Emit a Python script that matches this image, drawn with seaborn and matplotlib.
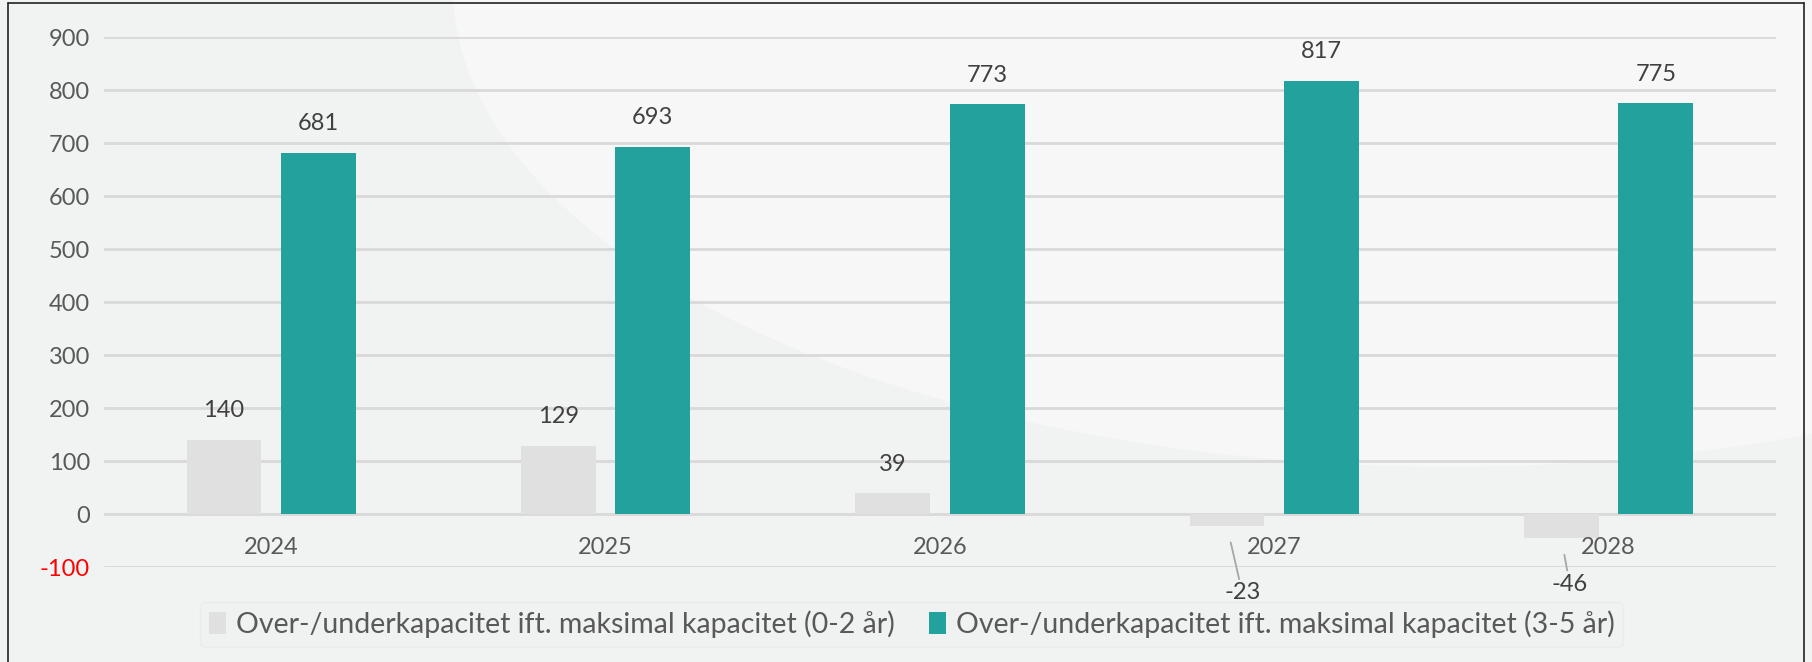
import matplotlib
matplotlib.use("Agg")
import matplotlib.pyplot as plt
from matplotlib.patches import Ellipse
from matplotlib.lines import Line2D
import pandas as pd
import seaborn as sns

years = ["2024", "2025", "2026", "2027", "2028"]
short_term = [140, 129, 39, -23, -46]
long_term = [681, 693, 773, 817, 775]
series_names = ["Over-/underkapacitet ift. maksimal kapacitet (0-2 år)",
                "Over-/underkapacitet ift. maksimal kapacitet (3-5 år)"]
yticks = [-100, 0, 100, 200, 300, 400, 500, 600, 700, 800, 900]

df = pd.DataFrame({
    "year": years * 2,
    "value": short_term + long_term,
    "serie": [series_names[0]] * 5 + [series_names[1]] * 5,
})

sns.set_style("white")
plt.rcParams["font.family"] = ["Lato", "DejaVu Sans"]
plt.rcParams["axes.unicode_minus"] = False

fig = plt.figure(figsize=(18.12, 6.62), dpi=100, facecolor="#f1f2f2")
# soft white swoosh in the background
bg = Ellipse((0.80, 1.02), 1.1, 1.45, transform=fig.transFigure,
             facecolor="white", alpha=0.45, edgecolor="none", zorder=-5)
fig.patches.append(bg)
ax = fig.add_axes([0.0574, 0.1435, 0.9226, 0.8005])
ax.set_zorder(2)
ax.set_facecolor("none")

sns.barplot(data=df, x="year", y="value", hue="serie", ax=ax,
            palette=["#e0e0e0", "#23a19c"], width=0.565, gap=0.207,
            saturation=1, edgecolor="none", legend=True)

ax.set_ylim(-100, 900)
ax.set_xlim(-0.5, 4.5)
ax.set_yticks(yticks)
ax.yaxis.grid(True, color="#d9d9d9", linewidth=2)
ax.set_axisbelow(True)
for s in ax.spines.values():
    s.set_visible(False)
ax.set_xlabel("")
ax.set_ylabel("")
ax.tick_params(axis="both", length=0, labelsize=17, labelcolor="#595959")
ax.tick_params(axis="y", pad=10)
for lbl in ax.get_yticklabels():
    if lbl.get_text().startswith("-"):
        lbl.set_color("red")

# category labels just below the zero line
ax.set_xticks(range(len(years)))
ax.set_xticklabels([])
for i, y in enumerate(years):
    ax.annotate(y, (i, 0), xytext=(0, -24), textcoords="offset points",
                ha="center", va="center", fontsize=17, color="#595959")

# data labels
for cont in ax.containers:
    for bar in cont:
        v = bar.get_height()
        x = bar.get_x() + bar.get_width() / 2
        if v >= 0:
            ax.annotate(f"{v:.0f}", (x, v), xytext=(0, 21), textcoords="offset points",
                        ha="center", va="center", fontsize=17, color="#404040")
        else:
            dy = -48 if v > -30 else -33
            dx = 11 if v > -30 else 6
            ax.annotate(f"{v:.0f}", (x, v), xytext=(dx, dy), textcoords="offset points",
                        ha="center", va="center", fontsize=17, color="#404040",
                        arrowprops=dict(arrowstyle="-", color="#a6a6a6", lw=1.3,
                                        shrinkA=0, shrinkB=12))

h, l = ax.get_legend_handles_labels()
ax.get_legend().remove()
leg = fig.legend(h, l, loc="center", bbox_to_anchor=(0.503, 0.057), ncol=2,
                 frameon=True, facecolor="#f0f1f1", edgecolor="#e9eaea", fontsize=20.5,
                 labelcolor="#595959", handlelength=0.6, handleheight=0.8,
                 handletextpad=0.35, columnspacing=1.2, borderpad=0.3)
leg.set_zorder(3)

# thin dark frame on left, top and right
fig.lines.extend([
    Line2D([0.0046, 0.0046], [0, 0.995], transform=fig.transFigure, color="#222222", lw=1.2),
    Line2D([0.0046, 0.9956], [0.995, 0.995], transform=fig.transFigure, color="#222222", lw=1.2),
    Line2D([0.9956, 0.9956], [0, 0.995], transform=fig.transFigure, color="#222222", lw=1.2),
])

fig.savefig("out.png", dpi=100, facecolor=fig.get_facecolor())
